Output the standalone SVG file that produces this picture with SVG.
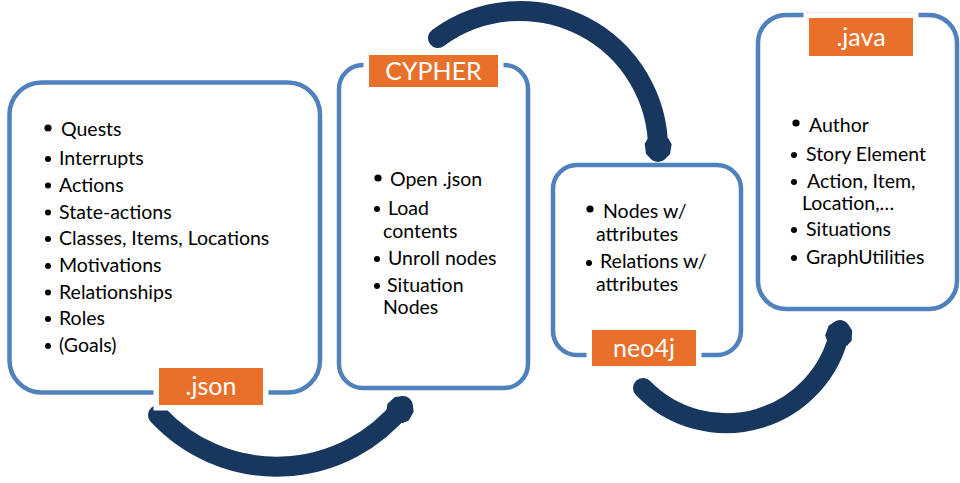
<svg xmlns="http://www.w3.org/2000/svg" width="960" height="483" viewBox="0 0 960 483">
<style>
.box{fill:#fff;stroke:#4F81BD;stroke-width:4.5}
.lab{fill:#E8702A;stroke:#fff;stroke-width:11;paint-order:stroke}
.lt{font-family:Lato,"Liberation Sans",sans-serif;font-size:25px;fill:#fff;text-anchor:middle}
.t{font-family:Lato,"Liberation Sans",sans-serif;font-size:19.5px;fill:#000}
.arc{fill:none;stroke:#17375E;stroke-width:20;stroke-linecap:round}
.b{fill:#000}
</style>
<defs>
<marker id="head" markerUnits="userSpaceOnUse" orient="auto" markerWidth="60" markerHeight="60" refX="0" refY="0" viewBox="-30 -30 60 60" overflow="visible">
<path d="M-14,-10 L-8,-13.5 L2,-12 Q9,-6 9,0 Q9,6 2,12 L-8,13.5 L-14,10 Z" fill="#17375E"/>
</marker>
</defs>
<g id="connectors">
<path class="arc" d="M158,415 A162,162 0 0 0 403,406" marker-end="url(#head)"/>
<path class="arc" d="M438,38 A138,138 0 0 1 658,152" marker-end="url(#head)"/>
<path class="arc" d="M643,388 A116,116 0 0 0 840,330" marker-end="url(#head)"/>
</g>
<g id="json-box">
<rect class="box" x="9.5" y="82.5" width="310.5" height="310" rx="32"/>
<rect class="lab" x="159" y="368" width="104" height="37"/>
<text class="lt" x="211" y="395">.json</text>
<circle class="b" cx="48" cy="128" r="3.6"/><text class="t" x="61" y="136">Quests</text>
<circle class="b" cx="48" cy="159" r="3"/><text class="t" x="59" y="165">Interrupts</text>
<circle class="b" cx="48" cy="185.5" r="3"/><text class="t" x="59" y="191.5">Actions</text>
<circle class="b" cx="48" cy="212.5" r="3"/><text class="t" x="59" y="218.5">State-actions</text>
<circle class="b" cx="48" cy="239" r="3"/><text class="t" x="59" y="245">Classes, Items, Locations</text>
<circle class="b" cx="48" cy="266" r="3"/><text class="t" x="59" y="272">Motivations</text>
<circle class="b" cx="48" cy="292.5" r="3"/><text class="t" x="59" y="298.5">Relationships</text>
<circle class="b" cx="48" cy="319" r="3"/><text class="t" x="59" y="325">Roles</text>
<circle class="b" cx="48" cy="346" r="3"/><text class="t" x="59" y="352">(Goals)</text>
</g>
<g id="cypher-box">
<rect class="box" x="339" y="65" width="189" height="323" rx="24"/>
<rect class="lab" x="369" y="55" width="129" height="32"/>
<text class="lt" x="433.5" y="80">CYPHER</text>
<circle class="b" cx="378" cy="178" r="3.6"/><text class="t" x="390" y="186">Open .json</text>
<circle class="b" cx="377" cy="209" r="3"/><text class="t" x="388" y="215">Load</text>
<text class="t" x="383" y="238">contents</text>
<circle class="b" cx="377" cy="259" r="3"/><text class="t" x="388" y="265">Unroll nodes</text>
<circle class="b" cx="377" cy="286" r="3"/><text class="t" x="387" y="292">Situation</text>
<text class="t" x="383" y="314">Nodes</text>
</g>
<g id="neo4j-box">
<rect class="box" x="553" y="165" width="188" height="190" rx="24"/>
<rect class="lab" x="592" y="330" width="104" height="36"/>
<text class="lt" x="644" y="357">neo4j</text>
<circle class="b" cx="590" cy="209" r="3.6"/><text class="t" x="603" y="218">Nodes w/</text>
<text class="t" x="596" y="241">attributes</text>
<circle class="b" cx="589" cy="263" r="3"/><text class="t" x="600" y="268">Relations w/</text>
<text class="t" x="596" y="291">attributes</text>
</g>
<g id="java-box">
<rect class="box" x="758" y="15" width="199" height="294" rx="28"/>
<rect class="lab" x="809" y="18" width="104" height="38"/>
<text class="lt" x="861" y="46">.java</text>
<circle class="b" cx="796" cy="123" r="3.6"/><text class="t" x="809" y="132">Author</text>
<circle class="b" cx="794" cy="155" r="3"/><text class="t" x="806" y="161">Story Element</text>
<circle class="b" cx="794" cy="182" r="3"/><text class="t" x="807" y="188">Action, Item,</text>
<text class="t" x="802" y="210">Location,…</text>
<circle class="b" cx="794" cy="230" r="3"/><text class="t" x="806" y="236">Situations</text>
<circle class="b" cx="794" cy="258" r="3"/><text class="t" x="806" y="264">GraphUtilities</text>
</g>
</svg>
